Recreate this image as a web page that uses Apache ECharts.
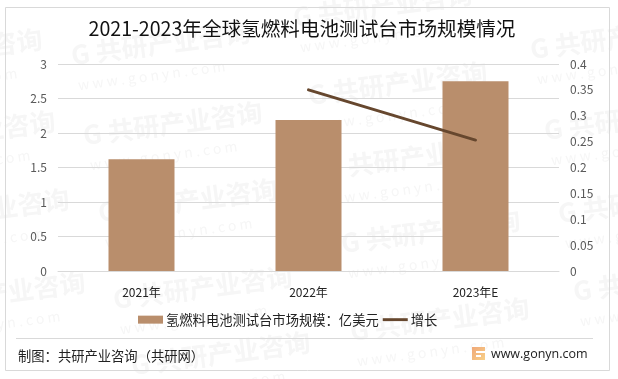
<!DOCTYPE html>
<html><head><meta charset="utf-8">
<style>html,body{margin:0;padding:0;background:#fff}#c{width:618px;height:379px}</style>
<script src="https://cdn.jsdelivr.net/npm/echarts@6/dist/echarts.min.js"></script>
</head><body><div id="c"></div>
<script>
const titleText = '2021-2023年全球氢燃料电池测试台市场规模情况';
const categories = ['2021年', '2022年', '2023年E'];
const marketSize = [1.62, 2.19, 2.75];
const growth = [null, 0.35, 0.253];
const barName = '氢燃料电池测试台市场规模\uFF1A亿美元';
const lineName = '增长';
const sourceText = '制图\uFF1A共研产业咨询\uFF08共研网\uFF09';
const siteText = 'www.gonyn.com';
const wmCN = 'G 共研产业咨询';
const wmEN = 'w w w . g o n y n . c o m';
const wmSpots = [[-135,75],[-122,157],[-108,235],[-92,318],[73,68],[85,148],[100,225],[115,312],[133,378],[295,30],[310,108],[325,182],[343,256],[352,344],[532,62],[546,143],[560,226],[575,304]];
const font = '"Noto Sans CJK SC","Noto Sans",sans-serif';
const wm = [];
wmSpots.forEach(([x,y]) => {
  wm.push({type:'text',x,y,rotation:0.13,z:0,silent:true,style:{text:wmCN,font:'bold 26px '+font,fill:'#f6f6f6',textVerticalAlign:'bottom'}});
  wm.push({type:'text',x:x+6,y:y+24,rotation:0.13,z:0,silent:true,style:{text:wmEN,font:'14px '+font,fill:'#f6f6f6',textVerticalAlign:'bottom'}});
});
const chart = echarts.init(document.getElementById('c'));
chart.setOption({
  animation:false,
  backgroundColor:'#fff',
  textStyle:{fontFamily:font},
  title:{text:titleText,left:297,top:14,textAlign:'center',textStyle:{fontSize:19.6,fontWeight:'normal',color:'#111',fontFamily:font}},
  grid:{left:58,right:59,top:64,bottom:108,containLabel:false},
  legend:{left:138,top:313,padding:0,itemWidth:25,itemHeight:8,itemGap:4,textStyle:{fontSize:13.3,color:'#222',fontFamily:font,padding:[0,0,0,-2]},
    data:[{name:barName,icon:'rect'},{name:lineName,icon:'path://M0 0M26 8M0 2.5H26V5.5H0Z'}]},
  xAxis:{type:'category',data:categories,axisTick:{show:false},axisLine:{lineStyle:{color:'#d9d9d9'}},
    axisLabel:{margin:15,fontSize:12,color:'#222',fontFamily:font}},
  yAxis:[
    {type:'value',min:0,max:3,interval:0.5,axisLine:{show:false},axisTick:{show:false},
     splitLine:{lineStyle:{color:'#d9d9d9',width:1}},axisLabel:{margin:11,fontSize:12,color:'#595959'}},
    {type:'value',min:0,max:0.4,interval:0.05,position:'right',axisLine:{show:false},axisTick:{show:false},
     splitLine:{show:false},axisLabel:{margin:11,fontSize:12,color:'#595959'}}
  ],
  series:[
    {name:barName,type:'bar',data:marketSize,barWidth:66,itemStyle:{color:'#b98e6c'},z:2},
    {name:lineName,type:'line',yAxisIndex:1,data:growth,symbol:'none',connectNulls:false,lineStyle:{color:'#66472e',width:3,cap:'round'},itemStyle:{color:'#66472e'},z:3}
  ],
  graphic:wm.concat([
    {type:'rect',z:1,silent:true,shape:{x:5.5,y:7.5,width:604,height:363},style:{fill:'none',stroke:'#d9d9d9',lineWidth:1}},
    {type:'line',z:1,silent:true,shape:{x1:16,y1:338.5,x2:593,y2:338.5},style:{stroke:'#d9d9d9',lineWidth:1}},
    {type:'text',x:18,y:349,z:5,style:{text:sourceText,font:'13.3px '+font,fill:'#222'}},
    {type:'rect',z:5,shape:{x:472,y:347,width:13,height:13},style:{fill:new echarts.graphic.LinearGradient(0,0,1,1,[{offset:0,color:'#f0a878'},{offset:1,color:'#f8d088'}])}},
    {type:'rect',z:6,shape:{x:476,y:351,width:9,height:2},style:{fill:'#fff'}},
    {type:'rect',z:6,shape:{x:476,y:355,width:5,height:2},style:{fill:'#fff'}},
    {type:'text',x:491,y:348,z:5,style:{text:siteText,font:'12.5px "Open Sans","Noto Sans",sans-serif',fill:'#222'}}
  ])
});
</script></body></html>
